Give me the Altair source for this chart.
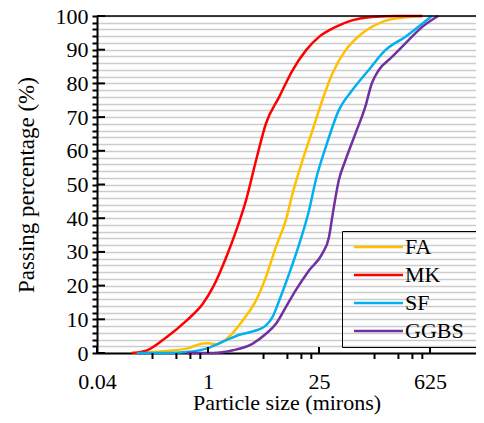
import altair as alt
import pandas as pd

# ---- data ----
series = ["FA", "MK", "SF", "GGBS"]
colors = ["#FFC000", "#FF0000", "#00B0F0", "#7030A0"]

fa_size = [0.11, 0.30, 0.54, 0.86, 1.0, 1.28, 1.87, 2.74, 4.03, 5.37, 7.17, 9.55, 11.6, 15.5, 20.7, 27.5, 36.7, 53.8, 86.8, 154, 277, 495]
fa_pct = [0, 0.6, 1.3, 2.8, 2.9, 2.6, 5.0, 9.7, 15.6, 22.6, 31.5, 39.4, 47.3, 57.2, 66.1, 75, 82.9, 89.8, 94.8, 98.2, 99.5, 100]

mk_size = [0.11, 0.17, 0.30, 0.54, 0.86, 1.16, 1.70, 2.27, 3.01, 4.03, 5.37, 7.88, 11.6, 17.1, 25, 40, 65, 115, 250, 500]
mk_pct = [0, 0.8, 4.7, 9.7, 14.6, 19.6, 28.5, 36.4, 45.3, 57.2, 68.1, 76, 83.9, 89.8, 93.8, 96.7, 98.7, 99.7, 100, 100]

sf_size = [0.127, 0.30, 0.54, 0.95, 1.70, 2.50, 3.66, 5.37, 6.5, 7.88, 10.5, 14.1, 18.7, 22.7, 30.4, 44.3, 65, 105, 170, 304, 659]
sf_pct = [0, 0, 0.3, 1.3, 3.8, 5.4, 6.4, 8.2, 10.7, 15.6, 23.5, 32.4, 42.3, 51.2, 61.1, 72, 77.9, 83.9, 89.8, 93.8, 100]

ggbs_size = [0.54, 1.16, 2.06, 3.66, 5.37, 7.17, 9.55, 12.7, 18.7, 27.5, 33.4, 36.7, 44.3, 53.8, 71.8, 95.5, 115, 141, 206, 304, 495, 788]
ggbs_pct = [0, 0, 0.8, 2.8, 5.7, 8.7, 13.6, 18.6, 24.5, 29.5, 34.4, 40.4, 51.2, 57.2, 65.1, 73, 79.9, 83.9, 87.8, 91.8, 96.7, 100]

x_major = [0.04, 1, 25, 625]
x_minor = [0.2, 0.4, 0.6, 0.8, 5, 10, 15, 20, 125, 250, 375, 500]
y_major = list(range(0, 101, 10))
y_minor = list(range(0, 101, 2))

# ---- build table ----
rows = []
for name, sizes, pcts in [("FA", fa_size, fa_pct), ("MK", mk_size, mk_pct),
                          ("SF", sf_size, sf_pct), ("GGBS", ggbs_size, ggbs_pct)]:
    for i, (s, p) in enumerate(zip(sizes, pcts)):
        rows.append({"series": name, "size": s, "pct": p, "order": i})
df = pd.DataFrame(rows)

FONT = "Liberation Serif"
W, H = 379, 337

xscale = alt.Scale(type="log", base=25, domain=[0.04, 2370], nice=False)
yscale = alt.Scale(domain=[0, 100], nice=False)

x_axis = alt.Axis(
    values=x_major, format=".2~f",
    labelOverlap=False, labelFlush=False,
    grid=False, ticks=False, tickSize=0,
    domainColor="black", domainWidth=2,
    labelFont=FONT, labelFontSize=22, labelColor="black", labelPadding=18,
    title="Particle size (mirons)", titleFont=FONT, titleFontSize=22,
    titleFontWeight="normal", titleColor="black", titlePadding=0,
)

y_axis = alt.Axis(
    values=y_minor, format="d",
    labelExpr="datum.value % 10 == 0 ? datum.label : ''",
    labelOverlap=False,
    grid=True, gridColor="#cccccc", gridWidth=1.6,
    tickSize=5, tickWidth=2, tickColor="black",
    domainColor="black", domainWidth=2,
    labelFont=FONT, labelFontSize=22, labelColor="black", labelPadding=4,
    title="Passing percentage (%)", titleFont=FONT, titleFontSize=23,
    titleFontWeight="normal", titleColor="black", titlePadding=17,
)

lines = alt.Chart(df).mark_line(strokeWidth=2.5, interpolate="monotone").encode(
    x=alt.X("size:Q", scale=xscale, axis=x_axis),
    y=alt.Y("pct:Q", scale=yscale, axis=y_axis),
    color=alt.Color(
        "series:N",
        scale=alt.Scale(domain=series, range=colors),
        legend=alt.Legend(
            orient="none", legendX=245, legendY=215,
            title=" ", titleOrient="right", titlePadding=13, titleFontSize=22,
            symbolType="M-4.9,0H4.9", symbolSize=100, symbolStrokeWidth=2.5,
            labelFont=FONT, labelFontSize=22, labelColor="black",
            symbolOffset=20.5, labelOffset=15.5,
            strokeColor="black", padding=5, rowPadding=6,
        ),
    ),
    order="order:Q",
)

# top frame line at 100 %
top = alt.Chart(pd.DataFrame({"v": [max(y_major)]})).mark_rule(color="black", strokeWidth=1.6).encode(
    y=alt.Y("v:Q", scale=yscale, axis=y_axis),
    x=alt.value(0), x2=alt.value(W),
)

# major y ticks crossing into the plot
ymaj = alt.Chart(pd.DataFrame({"v": y_major})).mark_rule(color="black", strokeWidth=2).encode(
    y=alt.Y("v:Q", scale=yscale, axis=y_axis),
    x=alt.value(0), x2=alt.value(8),
)

# major x ticks (inside) and minor x ticks (outside)
xmaj = alt.Chart(pd.DataFrame({"v": x_major})).mark_rule(color="black", strokeWidth=2).encode(
    x=alt.X("v:Q", scale=xscale, axis=x_axis),
    y=alt.value(H - 6), y2=alt.value(H),
)
xmin = alt.Chart(pd.DataFrame({"v": x_minor})).mark_rule(color="black", strokeWidth=2).encode(
    x=alt.X("v:Q", scale=xscale, axis=x_axis),
    y=alt.value(H), y2=alt.value(H + 6),
)

chart = alt.layer(lines, top, ymaj, xmaj, xmin).properties(
    width=W, height=H,
    padding={"left": 89, "top": 8, "right": 0, "bottom": 62},
    autosize=alt.AutoSizeParams(type="none"),
).configure_view(stroke=None)

chart.save("out.html", embed_options={"renderer": "svg", "actions": False})
